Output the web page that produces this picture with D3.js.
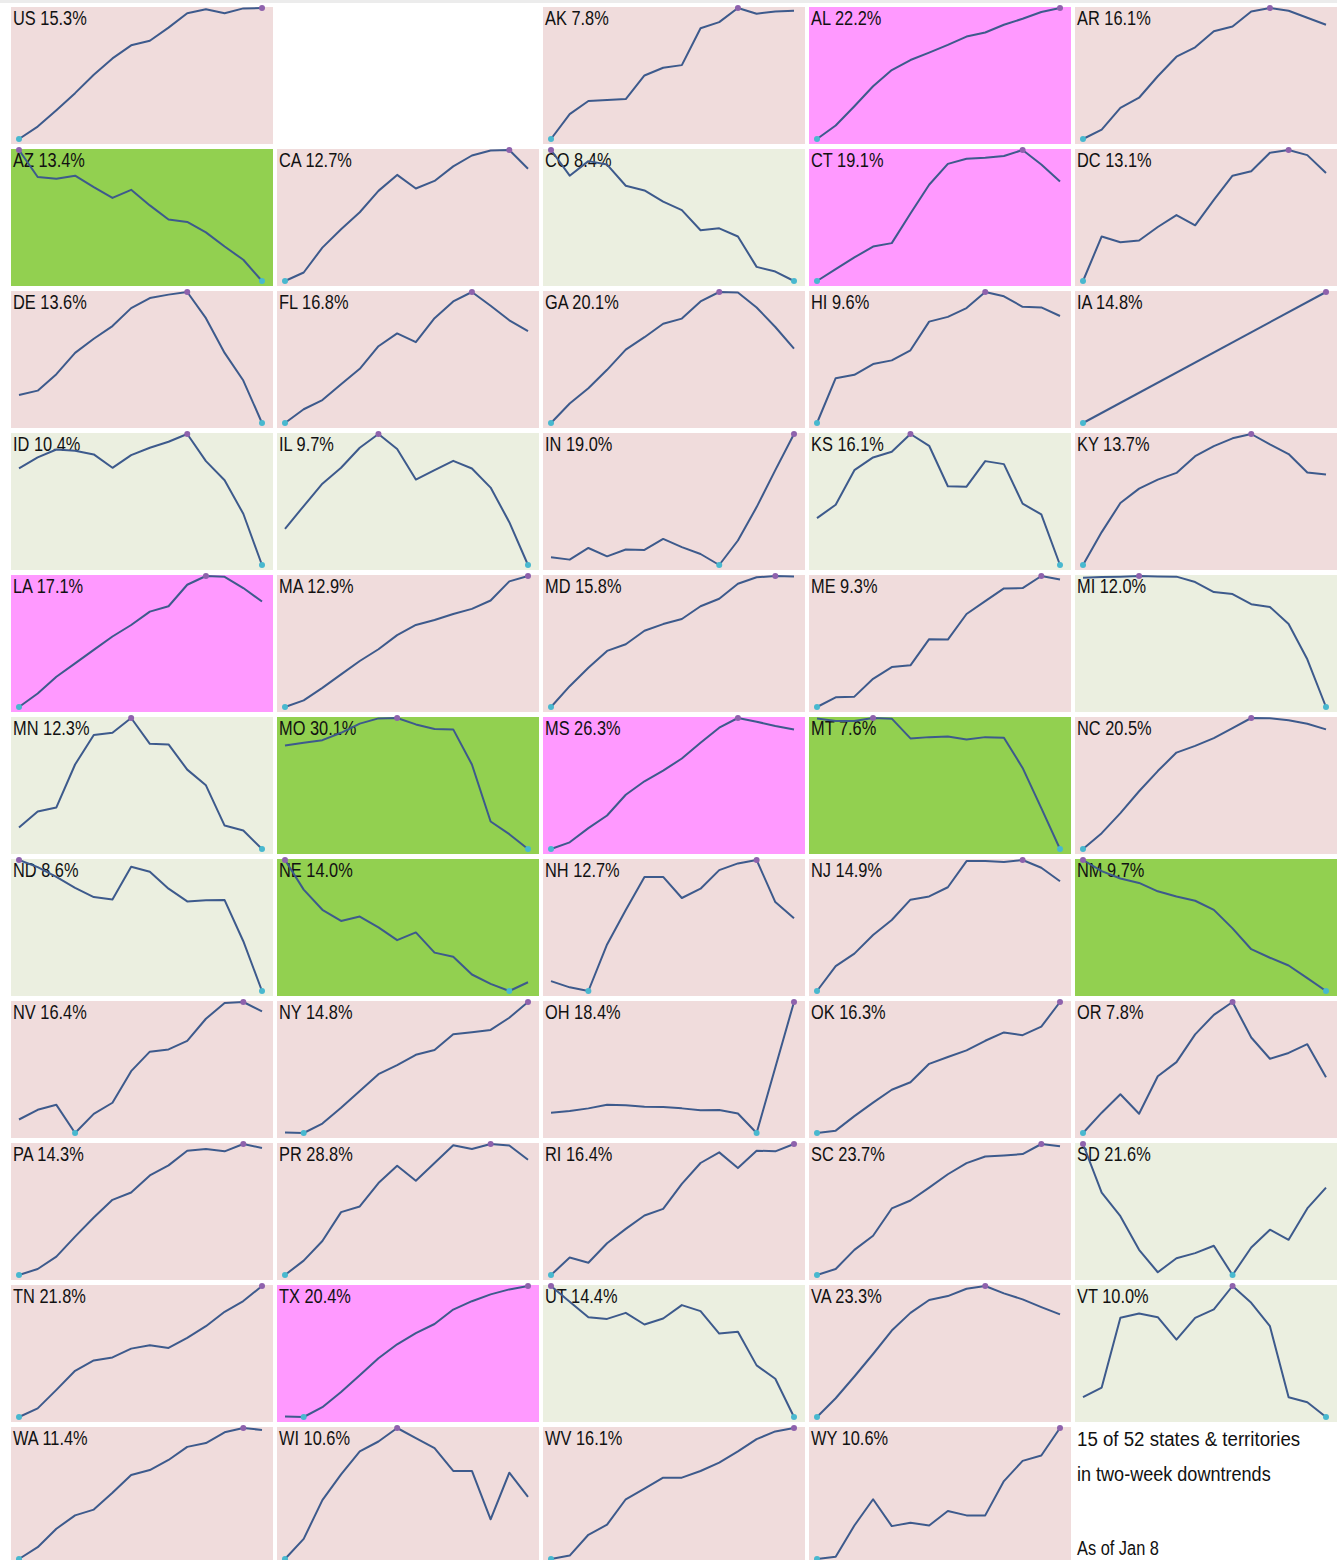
<!DOCTYPE html>
<html>
<head>
<meta charset="utf-8">
<script src="https://cdn.jsdelivr.net/npm/d3@7"></script>
<style>
body { margin: 0; background: #fff; }
svg { display: block; font-family: "Liberation Sans", Arial, sans-serif; }
</style>
</head>
<body>
<svg width="1337" height="1560"></svg>
<script>
// states in grid order (slot 1 is left empty, last slot holds the note)
codes = ["US", "AK", "AL", "AR", "AZ", "CA", "CO", "CT", "DC", "DE", "FL", "GA", "HI", "IA",
    "ID", "IL", "IN", "KS", "KY", "LA", "MA", "MD", "ME", "MI", "MN", "MO", "MS", "MT", "NC",
    "ND", "NE", "NH", "NJ", "NM", "NV", "NY", "OH", "OK", "OR", "PA", "PR", "RI", "SC", "SD",
    "TN", "TX", "UT", "VA", "VT", "WA", "WI", "WV", "WY"];

rates = [15.3, 7.8, 22.2, 16.1, 13.4, 12.7, 8.4, 19.1, 13.1, 13.6, 16.8, 20.1, 9.6, 14.8,
    10.4, 9.7, 19.0, 16.1, 13.7, 17.1, 12.9, 15.8, 9.3, 12.0, 12.3, 30.1, 26.3, 7.6, 20.5,
    8.6, 14.0, 12.7, 14.9, 9.7, 16.4, 14.8, 18.4, 16.3, 7.8, 14.3, 28.8, 16.4, 23.7, 21.6,
    21.8, 20.4, 14.4, 23.3, 10.0, 11.4, 10.6, 16.1, 10.6];

// 0 = up / mixed, 1 = sharp rise, 2 = steady fall, 3 = two-week fall
trend = [0, 0, 1, 0, 2, 0, 3, 1, 0, 0, 0, 0, 0, 0,
    3, 3, 0, 3, 0, 1, 0, 0, 0, 3, 3, 2, 1, 2, 0,
    3, 2, 0, 0, 2, 0, 0, 0, 0, 0, 0, 0, 0, 0, 3,
    0, 1, 3, 0, 3, 0, 0, 0, 0];

// weekly series (relative level)
values = [
    [0, 9.5, 22, 35, 49, 61.5, 71.5, 75, 85, 96, 99, 96, 99.7, 100],
    [0, 19, 29, 29.7, 30.5, 48.5, 54.4, 56.4, 84.6, 89.2, 100, 95.6, 97.4, 97.9],
    [0, 10.3, 25, 40.3, 52.6, 60.3, 65.9, 71.8, 78.2, 81.3, 87.2, 91.8, 96.9, 100],
    [0, 7.2, 23.8, 31.5, 47.9, 62.8, 70, 82.3, 85.9, 97.4, 100, 97.9, 92.6, 87.2],
    [100, 79.4, 78.1, 80.4, 71.6, 63.4, 69.6, 57.7, 46.9, 45.1, 37.1, 26.3, 16.2, 0],
    [0, 6.5, 25.5, 39.5, 52.5, 68.8, 81, 70.6, 76.4, 87.5, 95.8, 99.6, 100, 85.7],
    [100, 80.4, 91.5, 88.9, 72.7, 69.1, 60.6, 54.1, 38.7, 40.2, 34, 10.8, 7.2, 0],
    [0, 9, 18, 26.3, 28.9, 51.5, 73.5, 89.4, 93.3, 94.1, 95.4, 100, 88.9, 76],
    [0, 34, 29.6, 30.9, 41.2, 50.3, 42.5, 61.9, 80.4, 83.8, 97.9, 100, 96.1, 82.5],
    [21.3, 24.7, 37.3, 53.5, 64.3, 74, 87.7, 95.4, 98, 100, 80, 53.5, 32.4, 0],
    [0, 10.5, 17.5, 29.6, 41.4, 58.6, 68.4, 61.7, 80, 92.8, 100, 89.5, 78.4, 70.2],
    [0, 14.9, 26.5, 40.6, 56, 65.5, 75.8, 79.7, 92.8, 100, 99.6, 88.2, 73.3, 56.8],
    [0, 34.2, 36.8, 45, 47.8, 55.5, 77.4, 81, 87.7, 100, 96.7, 88.7, 88.2, 81.7],
    [0, null, null, null, null, null, null, null, null, null, null, null, null, 100],
    [73.7, 82.1, 88.2, 87.2, 84.4, 74.2, 83.9, 89.5, 94.1, 100, 79.3, 64.7, 39.1, 0],
    [27.6, 45, 62.1, 74.2, 89.5, 100, 88.5, 65.2, 72.4, 79.5, 73.7, 59.1, 32.7, 0],
    [5.9, 4.1, 13, 6.6, 11.8, 11.5, 19.9, 13.6, 8.4, 0, 18.7, 44.2, 72.4, 100],
    [35.8, 46, 72.4, 82.1, 86.4, 100, 91, 60.1, 59.8, 79.3, 77, 46.8, 38.6, 0],
    [0, 25.1, 47.3, 58.3, 65.2, 70.3, 83.1, 90.8, 96.7, 100, 92.1, 84.7, 70.6, 69.1],
    [0, 10.3, 23.1, 33.3, 43.6, 53.8, 62.6, 72.8, 76.9, 93.3, 100, 99.4, 90.8, 80.5],
    [0, 5.1, 14.6, 24.9, 35.1, 44.1, 54.9, 62.6, 66.4, 71, 74.9, 81.3, 95.9, 100],
    [0, 15.9, 29.9, 42.8, 47.9, 58.2, 63.3, 67.2, 76.9, 82.6, 94.1, 99, 100, 99.7],
    [0, 7.4, 7.9, 21.5, 30.5, 31.8, 51.8, 51.5, 71, 80.8, 90.5, 90.8, 100, 97.4],
    [98.7, 99.2, 99.5, 100, 99.7, 99.5, 95.4, 87.7, 86.2, 78.5, 76.4, 63.3, 36.4, 0],
    [16.4, 28.6, 31.7, 64.5, 87, 88.7, 100, 80.3, 79.8, 60.6, 48.6, 17.9, 14.1, 0],
    [79, 81.1, 83.1, 88.7, 95.7, 99.7, 100, 95.1, 91.6, 91.3, 64.5, 21, 11.3, 0],
    [0, 5.1, 15.9, 25.6, 41.4, 51.7, 59.8, 69.1, 81.1, 92.6, 100, 97.2, 93.9, 91.3],
    [99.7, 97.7, 97.7, 100, 99.5, 84.4, 85.4, 85.9, 83.6, 85.4, 84.9, 61.9, 31.2, 0],
    [0, 12.1, 27.4, 44.1, 59.5, 73.6, 78.7, 84.6, 92.3, 100, 99.8, 98.2, 95.6, 91.3],
    [100, 94.6, 87.1, 78.7, 71.7, 69.9, 94.9, 91, 78.1, 68.4, 69.2, 69.4, 38, 0],
    [100, 77.4, 62, 53.5, 56.8, 48.6, 38.8, 44.7, 29.3, 26.2, 12.6, 5.4, 0, 6.7],
    [7.5, 2.8, 0, 35.5, 61.9, 87.1, 87.1, 71, 78.1, 92.3, 97.4, 100, 67.9, 55.5],
    [0, 19, 28.5, 42.7, 54.2, 69.7, 72.2, 79.2, 99.2, 99.2, 98.5, 100, 94.1, 83.8],
    [100, 91.5, 85.9, 82.5, 76.1, 72.2, 68.9, 61.9, 47.8, 31.9, 25.4, 19.5, 9.8, 0],
    [10.3, 17.7, 21.5, 0, 14.6, 23.1, 47.2, 62.1, 63.8, 70.3, 87.2, 99.2, 100, 92.8],
    [0.3, 0, 7.2, 19.2, 32, 44.9, 51.8, 59.7, 63.3, 75.4, 76.9, 78.7, 88, 100],
    [15.5, 16.8, 18.8, 21.6, 21.1, 20.1, 19.8, 18.8, 17.3, 17.5, 14.9, 0, 50, 100],
    [0, 1.8, 12.9, 23.2, 33, 38.7, 52.8, 58, 63.1, 70.4, 76.8, 74.7, 81.2, 100],
    [0, 15.5, 29.6, 14.7, 43.3, 54.1, 75.3, 90.2, 100, 72.9, 56.7, 61.1, 67.8, 42.5],
    [0, 4.6, 14, 29.3, 43.9, 57.4, 63, 76, 83.7, 94.9, 96.2, 94.4, 100, 96.9],
    [0, 11, 26, 48, 52.3, 70.2, 83.4, 71.9, 85.5, 99, 96.2, 100, 98.9, 88],
    [0, 13.3, 9.4, 24.2, 35.2, 45.4, 50.5, 69.6, 85.5, 93.6, 81.6, 94.9, 94.4, 100],
    [0, 4.6, 19.2, 30, 50.8, 56.9, 66.7, 76.9, 85.4, 90.5, 91.3, 92.3, 100, 98.2],
    [100, 62.8, 44.9, 19.2, 2.1, 12.8, 16.7, 22.3, 0, 21, 34.6, 26.9, 50.8, 66.7],
    [0, 6.6, 20.7, 35.3, 43.2, 45.5, 52.2, 54.7, 52.7, 60.4, 69.3, 80.3, 88.5, 100],
    [0.3, 0, 7.5, 19.1, 31.9, 44.8, 55.5, 64, 71, 82, 88.4, 93.6, 97.4, 100],
    [100, 88, 76.2, 74.9, 79.5, 70.6, 75.2, 85.4, 80.8, 63.7, 65, 39.4, 29.2, 0],
    [0, 14.3, 30.9, 48.1, 66, 79.5, 89.3, 92.3, 97.9, 100, 94.4, 89.8, 83.9, 78.3],
    [15.1, 22.5, 75.7, 79, 76.2, 59.1, 75.7, 82.1, 100, 87.2, 69.3, 15.1, 11.3, 0],
    [0, 9, 23.1, 33.3, 37.7, 50.5, 64.1, 67.9, 75.6, 85.6, 88.5, 96.7, 100, 98.5],
    [0, 15.4, 44.9, 64.6, 82.1, 89.7, 100, 92.3, 84.6, 67.2, 67.2, 30.3, 65.9, 47.4],
    [0, 2.6, 18.5, 26.2, 45.6, 53.8, 62.1, 62.1, 67.2, 73.6, 82.1, 91.5, 97.4, 100],
    [0, 1.8, 25.6, 45.6, 25.1, 27.7, 25.6, 36.7, 33.3, 33.3, 59.5, 74.9, 79, 100]
];

noteLines = ["15 of 52 states & territories", "in two-week downtrends"];
noteDate = "As of Jan 8";

trendColors = ["#f0dcdc", "#ff99ff", "#92d050", "#ebefe0"];

svg = d3.select('svg');

// grid
cols = 5;
cellW = 262;
cellH = 137;
gapX = 266;
gapY = 142;
left = 11;
top0 = 7;

// thin grey strip at the very top
svg.append('rect')
    .attr('x', 0)
    .attr('y', 0)
    .attr('width', 1337)
    .attr('height', 3)
    .attr('fill', '#ececec');

xScale = d3.scaleLinear()
    .domain([0, 13])
    .range([8, 251]);

slotOf = (i) => i == 0 ? 0 : i + 1;

// condensed look: squeeze Liberation Sans horizontally
addText = (parent, x, y, size, squeeze, str) => {
    parent.append('text')
        .attr('transform', `translate(${x}, ${y}) scale(${squeeze}, 1)`)
        .attr('font-size', size)
        .attr('fill', '#111')
        .text(str);
};

for(i = 0; i < codes.length; i++) {
    slot = slotOf(i);
    cx = left + (slot % cols) * gapX;
    cy = top0 + Math.floor(slot / cols) * gapY;

    cell = svg.append('g')
        .attr('transform', `translate(${cx}, ${cy})`);

    cell.append('rect')
        .attr('width', cellW)
        .attr('height', cellH)
        .attr('fill', trendColors[trend[i]]);

    addText(cell, 2, 18, 21, 0.78, codes[i] + " " + rates[i].toFixed(1) + "%");

    pts = values[i].map((v, k) => [k, v]).filter((p) => p[1] != null);

    yScale = d3.scaleLinear()
        .domain(d3.extent(pts, (p) => p[1]))
        .range([132, 1]);

    line = d3.line()
        .x((p) => xScale(p[0]))
        .y((p) => yScale(p[1]));

    cell.append('path')
        .datum(pts)
        .attr('d', line)
        .attr('fill', 'none')
        .attr('stroke', '#3d5a8c')
        .attr('stroke-width', 2)
        .attr('stroke-linejoin', 'round');

    // max (purple) and min (cyan) markers
    hi = d3.maxIndex(values[i]);
    lo = d3.minIndex(values[i]);
    cell.append('circle')
        .attr('cx', xScale(hi))
        .attr('cy', yScale(values[i][hi]))
        .attr('r', 3)
        .attr('fill', '#8e62ad');
    cell.append('circle')
        .attr('cx', xScale(lo))
        .attr('cy', yScale(values[i][lo]))
        .attr('r', 3)
        .attr('fill', '#48b8cf');
}

// note in the last slot
noteX = left + 4 * gapX;
noteY = top0 + 10 * gapY;
note = svg.append('g')
    .attr('transform', `translate(${noteX}, ${noteY})`);

noteLines.forEach((d, k) => {
    addText(note, 2, 19 + k * 35, 21, k == 0 ? 0.89 : 0.86, d);
});
addText(note, 2, 128, 21, 0.78, noteDate);
</script>
</body>
</html>
